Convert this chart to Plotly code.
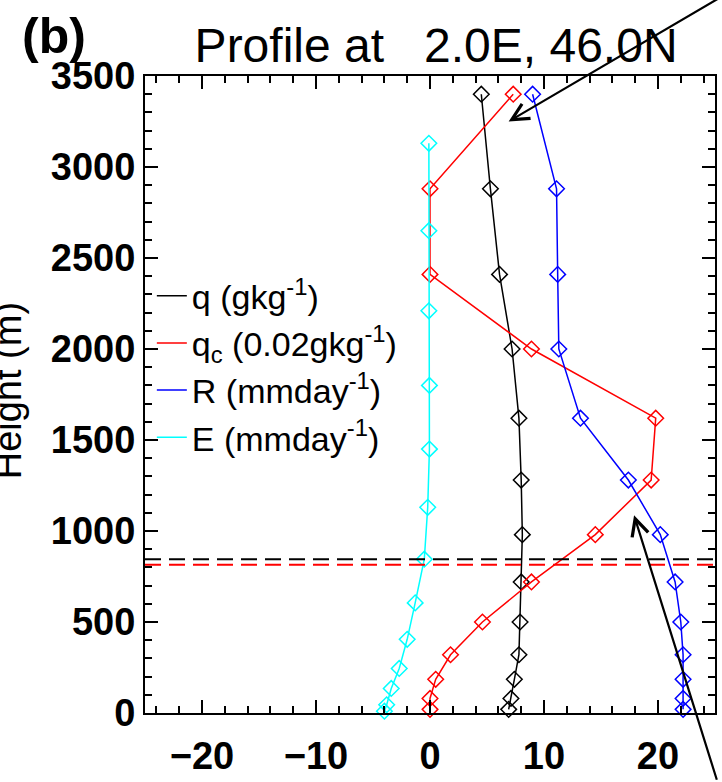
import plotly.graph_objects as go

# ---------------- data ----------------
heights_full = [3400, 2880, 2410, 2000, 1620, 1280, 980, 720, 500, 320, 185, 80, 20]
heights_half = [3130, 2650, 2210, 1800, 1450, 1130, 845, 605, 405, 245, 135, 45, 10]

q_vals = [4.5, 5.3, 6.1, 7.2, 7.8, 8.0, 8.1, 8.0, 7.9, 7.8, 7.4, 7.1, 6.9]
qc_vals = [7.3, 0.0, 0.0, 8.9, 19.8, 19.4, 14.5, 8.9, 4.6, 1.8, 0.5, 0.0, 0.0]
r_vals = [9.0, 11.1, 11.2, 11.3, 13.2, 17.4, 20.2, 21.5, 22.0, 22.2, 22.2, 22.2, 22.2]
e_vals = [-0.1, -0.1, -0.1, -0.05, -0.05, -0.2, -0.5, -1.3, -2.0, -2.7, -3.4, -3.8, -4.0]

series_names = ["q (gkg<sup>-1</sup>)", "q<sub>c</sub> (0.02gkg<sup>-1</sup>)",
                "R (mmday<sup>-1</sup>)", "E (mmday<sup>-1</sup>)"]
series_colors = ["#000000", "#ff0000", "#0000ff", "#00ffff"]

# boundary-layer heights (dashed lines)
pbl_heights = [845, 815]
pbl_colors = ["#000000", "#ff0000"]

# arrows: (head x, head y, tail x, tail y) in data units
arrow_head_x = [6.9, 17.9]
arrow_head_y = [3250, 1086]
arrow_tail_x = [27.7, 25.2]
arrow_tail_y = [4014, -375]

x_range = [-25, 25]
y_range = [0, 3500]

title_text = "Profile at\u00a0\u00a0\u00a02.0E, 46.0N"
panel_label = "(b)"
y_title = "Height (m)"

FONT = "Liberation Sans"

# ---------------- figure ----------------
fig = go.Figure()

ys = [heights_full, heights_full, heights_full, heights_half]
xs = [q_vals, qc_vals, r_vals, e_vals]
for xv, yv, name, col in zip(xs, ys, series_names, series_colors):
    fig.add_trace(go.Scatter(
        x=xv, y=yv, mode="lines+markers", showlegend=False, name=name,
        line=dict(color=col, width=1.5),
        marker=dict(symbol="diamond-open", size=12, color=col, line=dict(width=1.5, color=col)),
        cliponaxis=False,
    ))
# legend-only entries (line samples without markers)
for name, col in zip(series_names, series_colors):
    fig.add_trace(go.Scatter(x=[None], y=[None], mode="lines", name=name,
                             line=dict(color=col, width=1.5), showlegend=True))

for h, col in zip(pbl_heights, pbl_colors):
    fig.add_shape(type="line", xref="paper", x0=0, x1=1, yref="y", y0=h, y1=h,
                  line=dict(color=col, width=2, dash="16px,8px"))

for hx, hy, tx, ty in zip(arrow_head_x, arrow_head_y, arrow_tail_x, arrow_tail_y):
    fig.add_annotation(x=hx, y=hy, xref="x", yref="y", ax=tx, ay=ty, axref="x", ayref="y",
                       showarrow=True, arrowhead=5, arrowsize=1.5, arrowwidth=2.2,
                       arrowcolor="#000000", text="")

fig.add_annotation(text=panel_label, xref="paper", yref="paper", x=-0.159, y=1.0627,
                   xanchor="center", yanchor="middle", showarrow=False,
                   font=dict(family=FONT, size=50, color="black", weight="bold"))

fig.add_annotation(text=y_title, xref="paper", yref="paper", x=0, y=0.505, xshift=-137,
                   xanchor="center", yanchor="middle", textangle=-90, showarrow=False,
                   font=dict(family=FONT, size=38, color="black"))

axis_common = dict(
    showgrid=False, zeroline=False, showline=True, linecolor="black", linewidth=2,
    mirror="ticks", ticks="inside", ticklen=13, tickwidth=2, tickcolor="black",
    tickfont=dict(family=FONT, size=38, color="black", weight="bold"),
)

fig.update_layout(
    width=722, height=782, autosize=False,
    margin=dict(l=145, r=5, t=76, b=52),
    paper_bgcolor="white", plot_bgcolor="white",
    title=dict(text=title_text, x=0.604, y=0.942, xref="container", yref="container",
               xanchor="center", yanchor="middle",
               font=dict(family=FONT, size=48, color="black")),
    xaxis=dict(range=x_range, dtick=10, tick0=0,
               minor=dict(dtick=2, ticks="inside", ticklen=7, tickwidth=1.5, tickcolor="black"),
               ticklabelstandoff=8, **axis_common),
    yaxis=dict(range=y_range, dtick=500, tick0=0,
               minor=dict(dtick=100, ticks="inside", ticklen=7, tickwidth=1.5, tickcolor="black"),
               ticklabelstandoff=0, **axis_common),
    legend=dict(x=0.012, y=0.70, xanchor="left", yanchor="top",
                font=dict(family=FONT, size=34, color="black"),
                bgcolor="rgba(0,0,0,0)", borderwidth=0, itemwidth=30,
                tracegroupgap=0),
    showlegend=True,
)

fig.write_html("out.html")
